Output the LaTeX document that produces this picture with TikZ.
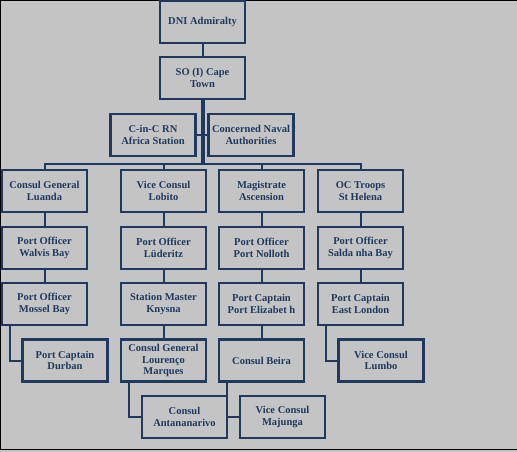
\documentclass[tikz,border=0pt]{standalone}
\usepackage{fontspec}
\setmainfont{Liberation Serif}
\usepackage{tikz}

\definecolor{navy}{HTML}{1F3A60}
\definecolor{paper}{HTML}{C4C4C4}

\begin{document}
\begin{tikzpicture}[x=1pt,y=-1pt,
        post/.style={draw=navy,line width=2.2pt,fill=paper,text=navy,
          minimum width=85pt,minimum height=42pt,inner sep=1pt,align=center,
          font=\fontsize{10.5}{11.5}\selectfont\bfseries},
        link/.style={navy,line width=2pt}]
        \pgfmathsetmacro{\rowa}{191}
        \pgfmathsetmacro{\rowb}{248}
        \pgfmathsetmacro{\rowc}{304}
        \pgfmathsetmacro{\rowd}{360.5}
        \pgfmathsetmacro{\rowe}{417}
        \useasboundingbox (0,0) rectangle (517,452);
        \fill[paper] (0,0) rectangle (517,452);
        \draw[black,line width=1pt] (0,449.5) -- (517,449.5);
        \draw[black,line width=1pt] (0.5,0) -- (0.5,449.5);
        \draw[black,line width=1pt] (0,0.5) -- (517,0.5);
        % top of the chain
        \node[post] (dni) at (202.5,22) {DNI Admiralty};
        \node[post] (so) at (202.5,78) {SO (I) Cape\\Town};
        \node[post] (cinc) at (153,135) {C-in-C RN\\Africa Station};
        \node[post] (naval) at (251,135) {Concerned Naval\\Authorities};
        \coordinate (bus) at (202.5,164);
        % first row
        \node[post] (luanda) at (44.5,\rowa) {Consul General\\Luanda};
        \node[post] (lobito) at (163.5,\rowa) {Vice Consul\\Lobito};
        \node[post] (ascension) at (261.5,\rowa) {Magistrate\\Ascension};
        \node[post] (helena) at (360.5,\rowa) {OC Troops\\St Helena};
        % second row
        \node[post] (walvis) at (44.5,\rowb) {Port Officer\\Walvis Bay};
        \node[post] (luderitz) at (163.5,\rowb) {Port Officer\\Lüderitz};
        \node[post] (nolloth) at (261.5,\rowb) {Port Officer\\Port Nolloth};
        \node[post] (saldanha) at (360.5,\rowb) {Port Officer\\Salda nha Bay};
        % third row
        \node[post] (mossel) at (44.5,\rowc) {Port Officer\\Mossel Bay};
        \node[post] (knysna) at (163.5,\rowc) {Station Master\\Knysna};
        \node[post] (elizabeth) at (261.5,\rowc) {Port Captain\\Port Elizabet h};
        \node[post] (eastlondon) at (360.5,\rowc) {Port Captain\\East London};
        % fourth and fifth rows
        \node[post] (durban) at (65,\rowd) {Port Captain\\Durban};
        \node[post] (lourenco) at (163.5,\rowd) {Consul General\\Lourenço\\Marques};
        \node[post] (beira) at (261.5,\rowd) {Consul Beira};
        \node[post] (lumbo) at (381,\rowd) {Vice Consul\\Lumbo};
        \node[post] (antananarivo) at (184.5,\rowe) {Consul\\Antananarivo};
        \node[post] (majunga) at (282.5,\rowe) {Vice Consul\\Majunga};
        % links
        \draw[link] (dni) -- (so);
        \draw[link] (cinc) -- (naval);
        \draw[link,line width=4pt] (so.south) -- (bus);
        \draw[link] (luanda.north) -- (luanda.north |- bus) -- (helena.north |- bus) -- (helena.north);
        \foreach \n in {lobito,ascension} {
          \draw[link] (\n.north) -- (\n.north |- bus);
        }
        \draw[link] (luanda) -- (walvis) -- (mossel);
        \draw[link] (lobito) -- (luderitz) -- (knysna) -- (lourenco);
        \draw[link] (ascension) -- (nolloth) -- (elizabeth) -- (beira);
        \draw[link] (helena) -- (saldanha) -- (eastlondon);
        \draw[link] ([xshift=9pt]mossel.south west) |- (durban.west);
        \draw[link] ([xshift=9pt]eastlondon.south west) |- (lumbo.west);
        \draw[link] ([xshift=9pt]lourenco.south west) |- (antananarivo.west);
        \draw[link] ([xshift=9pt]beira.south west) |- (majunga.west);
    \end{tikzpicture}
\end{document}
